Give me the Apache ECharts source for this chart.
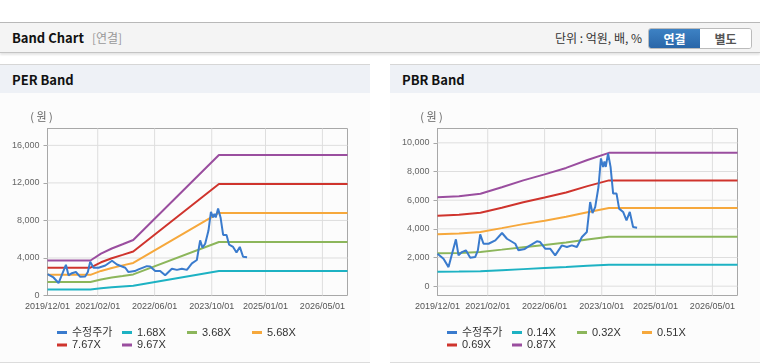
<!DOCTYPE html>
<html><head><meta charset="utf-8">
<script src="https://cdn.jsdelivr.net/npm/echarts@6/dist/echarts.min.js"></script>
<style>
html,body{margin:0;padding:0;width:760px;height:364px;overflow:hidden;background:#fff;font-family:'Noto Sans CJK KR','Noto Sans',sans-serif;}
#hdr{position:absolute;left:0;top:22px;width:760px;height:29px;background:#f4f4f4;border-top:1px solid #b8b8b8;border-bottom:1px solid #c4c4c4;box-shadow:0 2px 2px rgba(0,0,0,0.10);}
#ttl{position:absolute;left:12px;top:0;line-height:30px;font-size:13px;font-weight:bold;color:#111;}
#ttl span{font-weight:normal;color:#999;font-size:12px;margin-left:8px;}
#unit{position:absolute;right:118px;top:0;line-height:30px;font-size:12px;color:#333;}
#btns{position:absolute;left:648px;top:5px;height:19px;width:102px;border:1px solid #bbb;border-radius:3px;overflow:hidden;display:flex;}
#btns div{width:51px;height:19px;line-height:19px;text-align:center;font-size:12px;font-weight:bold;}
#b1{background:linear-gradient(#3d82c4,#2a66a8);color:#fff;}
#b2{background:#fff;color:#555;}
.panel{position:absolute;top:64px;width:370px;height:297px;border-top:1px solid #d6d6d6;border-bottom:1px solid #dcdcdc;background:#fcfcfc;}
.ph{height:28px;line-height:29px;background:#eef1f6;padding-left:12px;font-size:13px;font-weight:bold;color:#111;}
.chart{position:absolute;left:0;top:28px;width:370px;height:269px;}
</style></head>
<body>
<div id="hdr"><div id="ttl">Band Chart<span>[연결]</span></div><div id="unit">단위 : 억원, 배, %</div>
<div id="btns"><div id="b1">연결</div><div id="b2">별도</div></div></div>
<div class="panel" style="left:0"><div class="ph">PER Band</div><div class="chart" id="c1"></div></div>
<div class="panel" style="left:390px"><div class="ph">PBR Band</div><div class="chart" id="c2"></div></div>
<script>
// ---- data ----
const xStart = '2019-12-01', xEnd = '2026-12-01';
const xTickDates = ['2019-12-01','2021-02-01','2022-06-01','2023-10-01','2025-01-01','2026-05-01'];

const priceDates = ['2019-12-01','2020-01-21','2020-03-04','2020-05-06','2020-05-28','2020-06-26','2020-07-30','2020-09-05','2020-10-17','2020-11-09','2020-11-29','2020-12-27','2021-02-08','2021-04-07','2021-06-03','2021-07-15','2021-09-24','2021-10-21','2021-12-14','2022-01-15','2022-03-27','2022-04-24','2022-06-06','2022-07-18','2022-08-30','2022-10-26','2022-12-08','2023-01-19','2023-03-03','2023-04-15','2023-05-27','2023-06-24','2023-07-14','2023-08-06','2023-09-03','2023-09-24','2023-10-12','2023-10-24','2023-11-04','2023-11-24','2023-12-15','2024-01-06','2024-02-04','2024-02-26','2024-03-31','2024-04-29','2024-05-27','2024-06-24','2024-07-28'];
const priceValues = [2270,1920,1330,3270,2150,2380,2500,1990,2030,2500,3610,2960,2960,3200,3710,3310,2960,2500,2600,2780,3130,3080,2620,2620,2150,2850,2730,2850,2730,3430,3780,5870,5100,5520,6920,8910,8320,8700,8320,9260,8320,6460,6460,5410,5180,4590,5180,4130,4080];

const perBandDates = ['2019-12-01','2020-12-01','2021-03-01','2021-06-01','2021-09-01','2021-12-01','2023-12-01','2026-12-01'];
const per168 = [650,650,775,870,950,1030,2605,2605];
const per368 = [1430,1430,1700,1910,2080,2250,5700,5700];
const per568 = [2200,2200,2620,2940,3210,3470,8800,8800];
const per767 = [2970,2970,3540,3970,4330,4690,11890,11890];
const per967 = [3730,3730,4460,5010,5460,5910,14980,14980];
const perNames = ['1.68X','3.68X','5.68X','7.67X','9.67X'];
const perTicks = [0,4000,8000,12000,16000];
const perYMin = 0, perYMax = 17800;

const pbrBandDates = ['2019-12-01','2020-06-01','2020-12-01','2021-06-01','2021-12-01','2022-06-01','2022-12-01','2023-06-01','2023-12-01','2026-12-01'];
const pbr014 = [1010,1020,1050,1120,1190,1260,1330,1420,1500,1500];
const pbr032 = [2290,2320,2390,2550,2720,2880,3050,3250,3450,3450];
const pbr051 = [3630,3680,3780,4050,4330,4570,4840,5160,5450,5450];
const pbr069 = [4920,4980,5120,5470,5850,6190,6540,6980,7380,7380];
const pbr087 = [6200,6280,6450,6900,7380,7800,8250,8800,9300,9300];
const pbrNames = ['0.14X','0.32X','0.51X','0.69X','0.87X'];
const pbrTicks = [0,2000,4000,6000,8000,10000];
const pbrYMin = -650, pbrYMax = 11000;

const priceName = '수정주가';
const yUnit = '( 원 )';
// ---- styles ----
const bandColors = ['#1db2c3','#8cb65b','#f6a83c','#cf342d','#9a4e9f'];
const priceColor = '#3a7bcd';
const gridColor = '#dedede';
const numFont = "'Liberation Sans',sans-serif";
const korFont = "'Liberation Sans','Noto Sans CJK KR',sans-serif";

function ts(s){const p=s.split('-').map(Number);return Date.UTC(p[0],p[1]-1,p[2]);}
function pairs(d,v){return d.map((x,i)=>[ts(x),v[i]]);}
function fmtDate(v){const d=new Date(v);const p=n=>(n<10?'0':'')+n;return d.getUTCFullYear()+'/'+p(d.getUTCMonth()+1)+'/'+p(d.getUTCDate());}

function build(el, names, bandDates, bands, ticks, yMin, yMax){
  const chart = echarts.init(document.getElementById(el), null, {renderer:'canvas'});
  const xt = xTickDates.map(ts);
  const x0 = ts(xStart), x1 = ts(xEnd);
  const series = [];
  const gl = (name, data) => ({name:name, type:'line', data:data, showSymbol:false, symbol:'none', animation:false,
     lineStyle:{color:gridColor, width:1}});
  xt.slice(1).forEach((t,i)=>series.push(gl('gx'+i, [[t,yMin],[t,yMax]])));
  ticks.filter(v=>v>yMin).forEach((v,i)=>series.push(gl('gy'+i, [[x0,v],[x1,v]])));
  bands.forEach((b,i)=>series.push({name:names[i], type:'line', data:pairs(bandDates,b), showSymbol:false, symbol:'none',
     lineStyle:{width:2,color:bandColors[i]}, itemStyle:{color:bandColors[i]}, animation:false}));
  series.push({name:priceName, type:'line', data:pairs(priceDates,priceValues), showSymbol:false, symbol:'none',
     lineStyle:{width:2,color:priceColor}, itemStyle:{color:priceColor}, animation:false});
  const legBase = {left:52, itemWidth:10, itemHeight:3, itemGap:0, icon:'rect', selectedMode:false,
     textStyle:{width:50, fontSize:11, color:'#333', lineHeight:12, fontFamily:korFont}};
  chart.setOption({
    animation:false,
    grid:{left:47.5, top:35.5, width:300, height:167, show:true, borderColor:'#a8a8a8', borderWidth:1},
    xAxis:{type:'value', min:x0, max:x1,
      axisLine:{show:false}, axisTick:{show:false, customValues:xt},
      splitLine:{show:false},
      axisLabel:{customValues:xt, formatter:fmtDate, hideOverlap:false, showMinLabel:true, showMaxLabel:true, color:'#555', fontSize:9, fontFamily:numFont, margin:7}},
    yAxis:{type:'value', min:yMin, max:yMax, name:yUnit, nameLocation:'end', nameGap:6,
      nameTextStyle:{color:'#666', fontSize:11, fontFamily:"'Noto Sans CJK KR',sans-serif", padding:[0,12,0,0]},
      axisLine:{show:true, lineStyle:{color:'#a8a8a8', width:1}}, axisTick:{show:true, length:4, inside:false, lineStyle:{color:'#a8a8a8', width:1}, customValues:ticks},
      splitLine:{show:false},
      axisLabel:{customValues:ticks, formatter:v=>v.toLocaleString('en-US'), showMinLabel:true, color:'#666', fontSize:9, fontFamily:numFont, margin:8}},
    legend:[Object.assign({data:[priceName,names[0],names[1],names[2]], top:228.5}, legBase),
            Object.assign({data:[names[3],names[4]], top:241}, legBase)],
    series:series
  });
}
build('c1', perNames, perBandDates, [per168,per368,per568,per767,per967], perTicks, perYMin, perYMax);
build('c2', pbrNames, pbrBandDates, [pbr014,pbr032,pbr051,pbr069,pbr087], pbrTicks, pbrYMin, pbrYMax);
</script>
</body></html>
